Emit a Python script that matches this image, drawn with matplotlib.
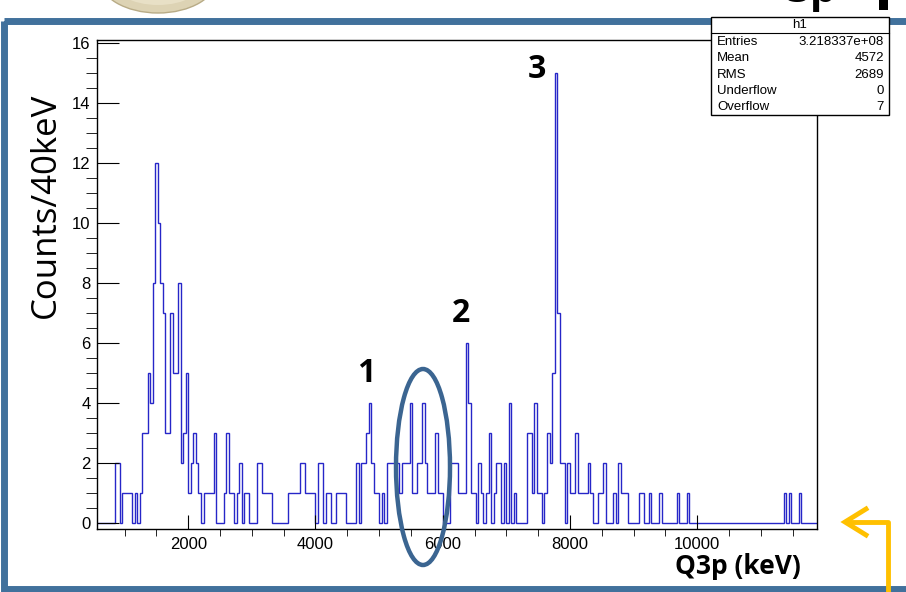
import numpy as np
import matplotlib
matplotlib.use("Agg")
import matplotlib.pyplot as plt
from matplotlib.patches import Rectangle, Ellipse

# Q3p spectrum, 40 keV bins from 560 to 11880 keV
bin_width = 40
e_min = 560
counts = [
    0, 0, 0, 0, 0, 0, 0, 2, 2, 0,
    1, 1, 1, 1, 0, 1, 0, 1, 3, 3,
    5, 4, 8, 12, 10, 8, 7, 3, 3, 7,
    5, 5, 8, 2, 3, 5, 1, 2, 3, 2,
    1, 0, 1, 1, 1, 1, 3, 0, 0, 0,
    1, 3, 1, 1, 0, 1, 2, 0, 1, 1,
    0, 0, 0, 2, 2, 1, 1, 1, 1, 0,
    0, 0, 0, 0, 0, 1, 1, 1, 1, 1,
    2, 2, 1, 1, 1, 1, 0, 2, 2, 0,
    1, 1, 0, 0, 1, 1, 1, 1, 0, 0,
    0, 0, 2, 0, 2, 2, 3, 4, 2, 1,
    1, 0, 1, 0, 2, 2, 2, 2, 2, 1,
    2, 2, 2, 4, 1, 1, 2, 2, 4, 2,
    1, 1, 1, 3, 1, 1, 0, 0, 0, 2,
    2, 2, 1, 1, 1, 6, 4, 1, 1, 0,
    2, 1, 0, 1, 3, 0, 1, 2, 2, 0,
    2, 0, 4, 0, 1, 0, 0, 0, 0, 3,
    3, 1, 4, 1, 1, 0, 1, 3, 2, 5,
    15, 7, 2, 2, 0, 2, 1, 1, 3, 1,
    1, 1, 1, 2, 1, 0, 0, 1, 1, 2,
    0, 0, 0, 1, 0, 2, 1, 1, 1, 0,
    0, 0, 0, 1, 1, 0, 0, 1, 0, 0,
    0, 1, 0, 0, 0, 0, 0, 0, 1, 0,
    0, 0, 1, 0, 0, 0, 0, 0, 0, 0,
    0, 0, 0, 0, 0, 0, 0, 0, 0, 0,
    0, 0, 0, 0, 0, 0, 0, 0, 0, 0,
    0, 0, 0, 0, 0, 0, 0, 0, 0, 0,
    1, 0, 1, 0, 0, 0, 1, 0, 0, 0,
    0, 0, 0,
]
edges = e_min + bin_width * np.arange(len(counts) + 1)

stats_names = ["Entries", "Mean", "RMS", "Underflow", "Overflow"]
stats_values = ["3.218337e+08", "4572", "2689", "0", "7"]

peak_labels = ["1", "2", "3"]

W, H = 906, 592
plt.rcParams['font.family'] = ['Liberation Sans', 'DejaVu Sans']
fig = plt.figure(figsize=(W / 100, H / 100), dpi=100)

# histogram frame in pixel units
left, right, top, bottom = 96.7, 816.7, 40.0, 529.0
ax = fig.add_axes([left / W, 1 - bottom / H, (right - left) / W, (bottom - top) / H])
ax.stairs(counts, edges, color='#2626c8', lw=1.0)
ax.set_xlim(edges[0], edges[-1])
ax.set_ylim(-0.21, 16.11)
ax.set_xticks([2000, 4000, 6000, 8000, 10000])
ax.set_xticks(np.arange(1000, 11880, 500), minor=True)
ax.set_yticks(np.arange(0, 17, 2))
ax.set_yticks(np.arange(0, 16.1, 0.5), minor=True)
ax.tick_params(axis='both', direction='in', labelsize=12, color='black')
ax.tick_params(axis='x', which='major', length=10, pad=5.5)
ax.tick_params(axis='x', which='minor', length=5)
ax.tick_params(axis='y', which='major', length=15.5, pad=4.5)
ax.tick_params(axis='y', which='minor', length=7.8)
ax.tick_params(top=False, right=False, which='both')
for sp in ax.spines.values():
    sp.set_linewidth(1.0)

# overlay in pixel coordinates for the slide decorations
ov = fig.add_axes([0, 0, 1, 1], zorder=5)
ov.set_xlim(0, W)
ov.set_ylim(H, 0)
ov.axis('off')

# logo edge peeking in at the top left
ov.add_patch(Ellipse((158, -22), 118, 70, fc='#ddd3b4', ec='#b8ab86', lw=1.0))
ov.add_patch(Ellipse((158, -22), 96, 54, fc='#e8e0c6', ec='none'))

# slide title, mostly cut off at the top edge
ov.text(812, 2, "3p", ha='center', va='baseline', fontsize=30, fontweight='bold',
        family=['Open Sans', 'DejaVu Sans'])
ov.add_patch(Rectangle((879, -5), 9, 15, fc='black', ec='none'))

slide_blue = '#41719c'
ov.add_patch(Rectangle((3.5, 20.5), 930, 568.5, fill=False, ec=slide_blue, lw=5))

# stats box
bx0, bx1, by0, by1 = 711, 889, 17, 115
ov.add_patch(Rectangle((bx0, by0), bx1 - bx0, by1 - by0, fc='white', ec='black', lw=1.0))
ov.plot([bx0, bx1], [33, 33], color='black', lw=0.8)
ov.text((bx0 + bx1) / 2, 25, "h1", ha='center', va='center', fontsize=9.5)
for i, (n, v) in enumerate(zip(stats_names, stats_values)):
    y = 42 + i * 16.3
    ov.text(bx0 + 6, y, n, ha='left', va='center', fontsize=9.5)
    ov.text(bx1 - 5, y, v, ha='right', va='center', fontsize=9.5)

# peak numbers
label_pos = [(366, 373), (461, 313), (537, 69)]
for lab, (x, y) in zip(peak_labels, label_pos):
    ov.text(x, y, lab, ha='center', va='center', fontsize=23, fontweight='bold',
            family=['Open Sans', 'DejaVu Sans'])

ov.add_patch(Ellipse((423, 467), 54, 196, fill=False, ec='#3b6591', lw=3.2))

ov.text(46, 205, "Counts/40keV", rotation=90, ha='center', va='center', fontsize=25,
        family=['Open Sans', 'DejaVu Sans'])
ov.text(738, 567, "Q3p (keV)", ha='center', va='center', fontsize=19, fontweight='bold',
        family=['Open Sans', 'DejaVu Sans'])

# orange pointer
orange = '#ffc000'
ov.plot([888, 888, 846], [592, 522, 522], color=orange, lw=3.5, solid_capstyle='butt')
ov.plot([866, 845, 866], [509, 522, 535], color=orange, lw=3.5, solid_joinstyle='miter')

fig.savefig("out.png", dpi=100)
